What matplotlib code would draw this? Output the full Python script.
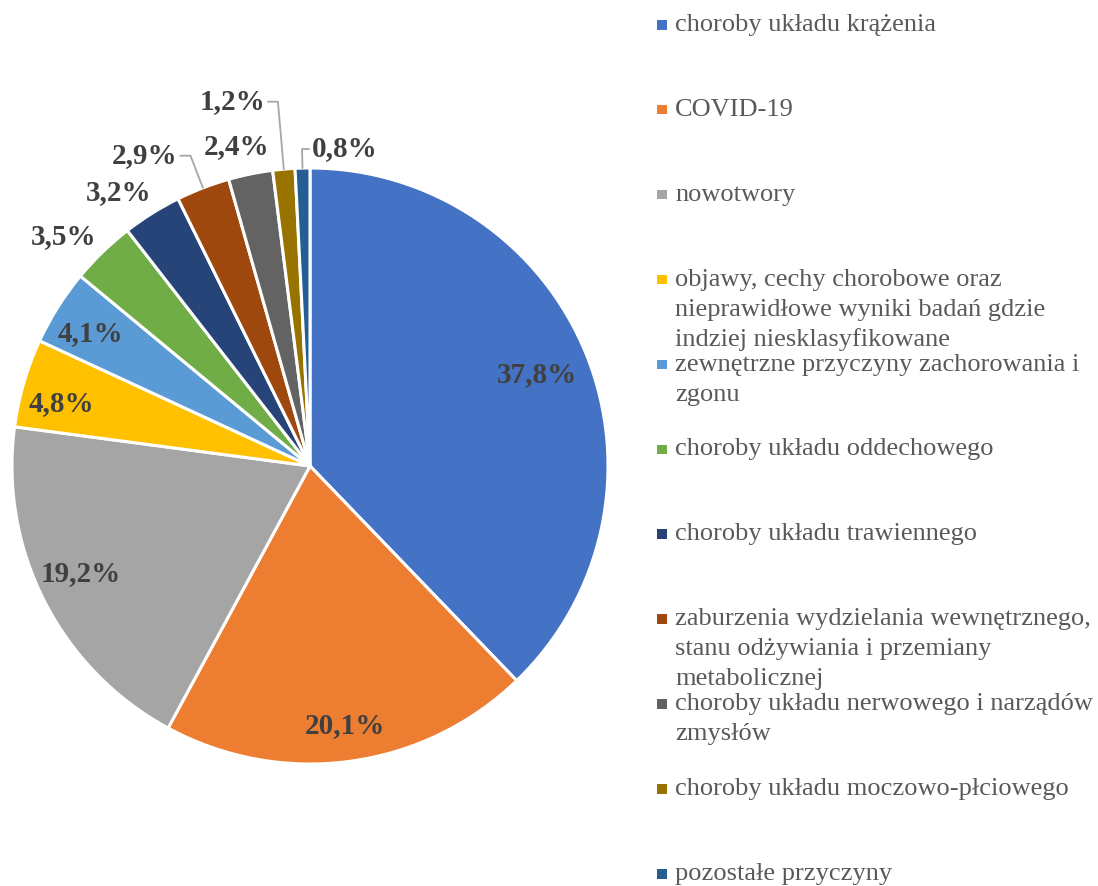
import numpy as np
import matplotlib
matplotlib.use("Agg")
import matplotlib.pyplot as plt
from matplotlib.patches import Rectangle

categories = [
    "choroby układu krążenia",
    "COVID-19",
    "nowotwory",
    "objawy, cechy chorobowe oraz\nnieprawidłowe wyniki badań gdzie\nindziej niesklasyfikowane",
    "zewnętrzne przyczyny zachorowania i\nzgonu",
    "choroby układu oddechowego",
    "choroby układu trawiennego",
    "zaburzenia wydzielania wewnętrznego,\nstanu odżywiania i przemiany\nmetabolicznej",
    "choroby układu nerwowego i narządów\nzmysłów",
    "choroby układu moczowo-płciowego",
    "pozostałe przyczyny",
]
values = [37.8, 20.1, 19.2, 4.8, 4.1, 3.5, 3.2, 2.9, 2.4, 1.2, 0.8]
colors = ["#4472C4", "#ED7D31", "#A5A5A5", "#FFC000", "#5B9BD5", "#70AD47",
          "#264478", "#9E480E", "#636363", "#997300", "#255E91"]

# label placement: radius factor and angle shift (deg) from wedge middle
label_r = [0.82, 0.88, 0.85, 0.86, 0.86, 1.13, 1.12, 1.18, 1.10, 1.25, 1.07]
label_shift = [0, 0, -2, 2, 1, 3, 3, 7, 1.5, 7, -7.7]
leader = [False] * 7 + [True, False, True, True]

W, H = 1098, 886
fig = plt.figure(figsize=(W / 100, H / 100), dpi=100)

cx, cy, R = 310, 466, 298
ax = fig.add_axes([(cx - R) / W, (H - cy - R) / H, 2 * R / W, 2 * R / H])

wedges, _ = ax.pie(values, colors=colors, startangle=90, counterclock=False,
                   radius=1.0, wedgeprops=dict(edgecolor="white", linewidth=2.2))
ax.set_xlim(-1, 1)
ax.set_ylim(-1, 1)
ax.axis("off")

for i, w in enumerate(wedges):
    mid = (w.theta1 + w.theta2) / 2.0
    th = np.deg2rad(mid + label_shift[i])
    tx, ty = label_r[i] * np.cos(th), label_r[i] * np.sin(th)
    txt = f"{values[i]:.1f}%".replace(".", ",")
    if leader[i]:
        ex, ey = np.cos(np.deg2rad(mid)), np.sin(np.deg2rad(mid))
        ax.annotate(txt, xy=(ex, ey), xytext=(tx, ty), ha="center", va="center",
                    fontsize=21, fontweight="bold", color="#404040",
                    family="Liberation Serif", annotation_clip=False,
                    arrowprops=dict(arrowstyle="-", color="#A6A6A6", lw=1.3,
                                    shrinkA=0, shrinkB=0,
                                    connectionstyle=f"angle,angleA=0,angleB={mid:.1f},rad=0"))
    else:
        ax.text(tx, ty, txt, ha="center", va="center", fontsize=21,
                fontweight="bold", color="#404040", family="Liberation Serif")

# legend drawn by hand (fixed slots like the original)
slots = 25 + 84.9 * np.arange(len(categories))
for i, name in enumerate(categories):
    y0 = slots[i]
    fig.add_artist(Rectangle(((657) / W, 1 - (y0 + 4.5) / H), 9.5 / W, 9.5 / H,
                             transform=fig.transFigure, facecolor=colors[i],
                             edgecolor="none"))
    for k, line in enumerate(name.split("\n")):
        fig.text(675 / W, 1 - (y0 + 30 * k) / H, line, ha="left", va="center",
                 fontsize=19, color="#595959", family="Liberation Serif")

fig.savefig("out.png", dpi=100)
